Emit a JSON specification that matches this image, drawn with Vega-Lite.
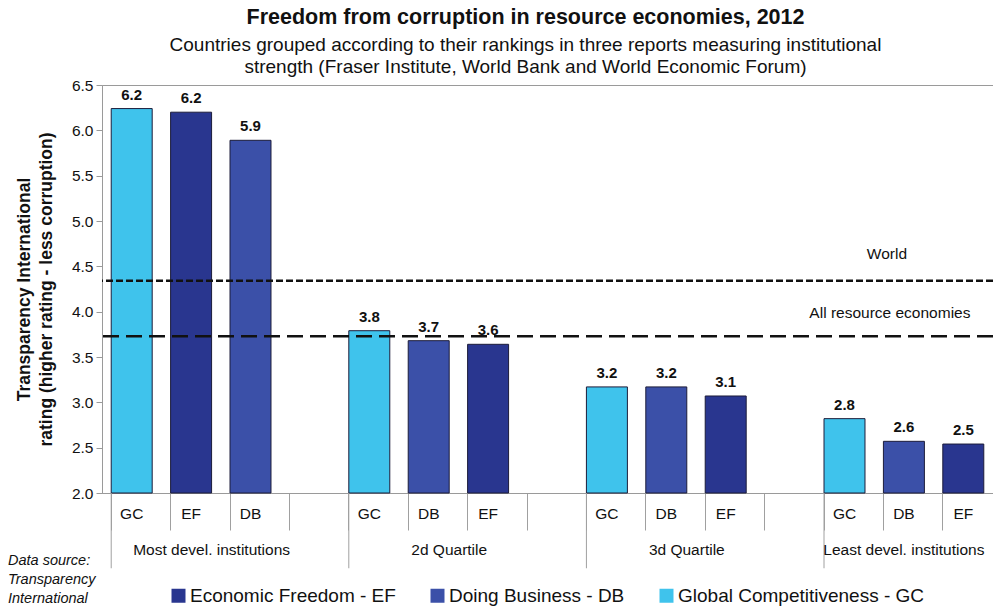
{
  "$schema": "https://vega.github.io/schema/vega-lite/v6.json",
  "width": 891,
  "height": 408,
  "autosize": {"type": "none"},
  "padding": {"left": 102, "top": 85, "right": 0, "bottom": 114},
  "background": "white",
  "config": {
    "font": "Liberation Sans",
    "view": {"stroke": "#9a9a9a", "strokeWidth": 1},
    "axis": {"labelFont": "Liberation Sans", "titleFont": "Liberation Sans"}
  },
  "title": {
    "text": "Freedom from corruption in resource economies, 2012",
    "subtitle": ["Countries grouped according to their rankings in three reports measuring institutional", "strength (Fraser Institute, World Bank and World Economic Forum)"],
    "anchor": "middle",
    "frame": "group",
    "dx": -22,
    "offset": 1,
    "fontSize": 21.5,
    "fontWeight": "bold",
    "color": "#111",
    "subtitleFontSize": 19,
    "subtitleColor": "#111",
    "subtitleLineHeight": 22,
    "subtitlePadding": 8
  },
  "datasets": {
    "bars": [
      {"slot": "A-GC", "series": "Global Competitiveness - GC", "value": 6.24},
      {"slot": "A-EF", "series": "Economic Freedom - EF", "value": 6.2},
      {"slot": "A-DB", "series": "Doing Business - DB", "value": 5.89},
      {"slot": "B-GC", "series": "Global Competitiveness - GC", "value": 3.79},
      {"slot": "B-DB", "series": "Doing Business - DB", "value": 3.68},
      {"slot": "B-EF", "series": "Economic Freedom - EF", "value": 3.64},
      {"slot": "C-GC", "series": "Global Competitiveness - GC", "value": 3.17},
      {"slot": "C-DB", "series": "Doing Business - DB", "value": 3.17},
      {"slot": "C-EF", "series": "Economic Freedom - EF", "value": 3.07},
      {"slot": "D-GC", "series": "Global Competitiveness - GC", "value": 2.82},
      {"slot": "D-DB", "series": "Doing Business - DB", "value": 2.57},
      {"slot": "D-EF", "series": "Economic Freedom - EF", "value": 2.54}
    ],
    "groups": [
      {"group": "Most devel. institutions", "first": "A-GC", "mid": "A-EF", "size": 4},
      {"group": "2d Quartile", "first": "B-GC", "mid": "B-DB", "size": 4},
      {"group": "3d Quartile", "first": "C-GC", "mid": "C-DB", "size": 4},
      {"group": "Least devel. institutions", "first": "D-GC", "mid": "D-DB", "size": 3}
    ],
    "refs": [
      {"name": "World", "value": 4.34},
      {"name": "All resource economies", "value": 3.73}
    ]
  },
  "encoding": {
    "x": {
      "field": "slot",
      "type": "nominal",
      "sort": null,
      "scale": {
        "domain": ["A-GC", "A-EF", "A-DB", "A-", "B-GC", "B-DB", "B-EF", "B-", "C-GC", "C-DB", "C-EF", "C-", "D-GC", "D-DB", "D-EF"],
        "paddingInner": 0.31,
        "paddingOuter": 0.155
      },
      "axis": {
        "title": null,
        "labelExpr": "split(datum.value, '-')[1]",
        "labelAngle": 0,
        "bandPosition": 0,
        "labelOffset": 0,
        "labelPadding": -24,
        "labelBaseline": "top",
        "labelFontSize": 15.5,
        "labelColor": "#111",
        "tickSize": 37,
        "tickColor": "#a0a0a0",
        "tickWidth": 1,
        "domainColor": "#9a9a9a"
      }
    }
  },
  "layer": [
    {
      "data": {"name": "bars"},
      "mark": {"type": "bar", "stroke": "#1c1c3a", "strokeWidth": 1},
      "encoding": {
        "y": {
          "field": "value",
          "type": "quantitative",
          "scale": {"domain": [2, 6.5], "nice": false, "zero": false},
          "axis": {
            "title": ["Transparency International", "rating (higher rating - less corruption)"],
            "titleFontSize": 17.5,
            "titleFontWeight": "bold",
            "titleColor": "#111",
            "titleLineHeight": 22,
            "titleX": -78,
            "titleY": 204,
            "titleAlign": "center",
            "titleBaseline": "middle",
            "values": [2, 2.5, 3, 3.5, 4, 4.5, 5, 5.5, 6, 6.5],
            "format": ".1f",
            "labelFontSize": 15.5,
            "labelColor": "#111",
            "labelPadding": 3,
            "tickSize": 6,
            "tickColor": "#9a9a9a",
            "domainColor": "#9a9a9a",
            "grid": false
          }
        },
        "y2": {"datum": 2},
        "color": {
          "field": "series",
          "type": "nominal",
          "scale": {
            "domain": ["Economic Freedom - EF", "Doing Business - DB", "Global Competitiveness - GC"],
            "range": ["#29368f", "#3b50a8", "#3fc3ec"]
          },
          "legend": {
            "orient": "none",
            "direction": "horizontal",
            "legendX": -94,
            "legendY": 501,
            "title": ["Data source:", "Transparency", "International"],
            "titleOrient": "left",
            "titleAnchor": "end",
            "titleBaseline": "bottom",
            "titleFontStyle": "italic",
            "titleFontWeight": "normal",
            "titleFontSize": 14.5,
            "titleLineHeight": 19,
            "titleColor": "#111",
            "titlePadding": 73,
            "symbolType": "square",
            "symbolSize": 196,
            "symbolStrokeWidth": 0,
            "symbolOpacity": 1,
            "labelFontSize": 19,
            "labelColor": "#111",
            "labelLimit": 0,
            "labelOffset": 2,
            "columnPadding": 32
          }
        }
      }
    },
    {
      "data": {"name": "bars"},
      "mark": {"type": "text", "fontSize": 15, "fontWeight": "bold", "baseline": "bottom", "dy": -6, "color": "#111"},
      "encoding": {
        "y": {"field": "value", "type": "quantitative"},
        "text": {"field": "value", "type": "quantitative", "format": ".1f"}
      }
    },
    {
      "data": {"name": "refs"},
      "transform": [{"filter": "datum.name === 'World'"}],
      "mark": {"type": "rule", "strokeDash": [7, 3], "strokeWidth": 2.5, "color": "#111"},
      "encoding": {"y": {"field": "value", "type": "quantitative"}, "x": null}
    },
    {
      "data": {"name": "refs"},
      "transform": [{"filter": "datum.name !== 'World'"}],
      "mark": {"type": "rule", "strokeDash": [16, 7], "strokeWidth": 2.5, "color": "#111"},
      "encoding": {"y": {"field": "value", "type": "quantitative"}, "x": null}
    },
    {
      "data": {"name": "refs"},
      "transform": [{"filter": "datum.name === 'World'"}],
      "mark": {"type": "text", "fontSize": 15.5, "color": "#111", "baseline": "middle", "dy": -27, "dx": -17},
      "encoding": {
        "x": {"datum": "D-DB", "type": "nominal"},
        "y": {"field": "value", "type": "quantitative"},
        "text": {"field": "name"}
      }
    },
    {
      "data": {"name": "refs"},
      "transform": [{"filter": "datum.name !== 'World'"}],
      "mark": {"type": "text", "fontSize": 15.5, "color": "#111", "baseline": "middle", "dy": -23, "dx": -14},
      "encoding": {
        "x": {"datum": "D-DB", "type": "nominal"},
        "y": {"field": "value", "type": "quantitative"},
        "text": {"field": "name"}
      }
    },
    {
      "data": {"name": "groups"},
      "mark": {"type": "rule", "color": "#a0a0a0", "strokeWidth": 1, "clip": false},
      "encoding": {
        "x": {"field": "first", "type": "nominal", "bandPosition": 0},
        "y": {"datum": 2, "type": "quantitative"},
        "y2": {"datum": 1.17}
      }
    },
    {
      "data": {"name": "groups"},
      "transform": [{"filter": "datum.size === 4"}],
      "mark": {"type": "text", "fontSize": 15.5, "color": "#111", "baseline": "middle", "clip": false},
      "encoding": {
        "x": {"field": "mid", "type": "nominal", "bandPosition": 1},
        "y": {"datum": 1.37, "type": "quantitative"},
        "text": {"field": "group"}
      }
    },
    {
      "data": {"name": "groups"},
      "transform": [{"filter": "datum.size === 3"}],
      "mark": {"type": "text", "fontSize": 15.5, "color": "#111", "baseline": "middle", "clip": false},
      "encoding": {
        "x": {"field": "mid", "type": "nominal", "bandPosition": 0.5},
        "y": {"datum": 1.37, "type": "quantitative"},
        "text": {"field": "group"}
      }
    }
  ]
}
